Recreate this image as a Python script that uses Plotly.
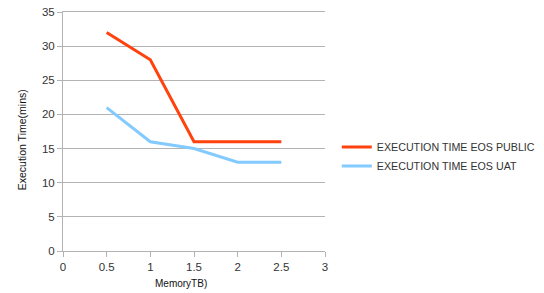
import plotly.graph_objects as go

memory_tb = [0.5, 1, 1.5, 2, 2.5]
eos_public = [32, 28, 16, 16, 16]
eos_uat = [21, 16, 15, 13, 13]

fig = go.Figure()
fig.add_trace(go.Scatter(x=memory_tb, y=eos_public, mode="lines", name="EXECUTION TIME EOS PUBLIC",
                         line=dict(color="#ff420e", width=3)))
fig.add_trace(go.Scatter(x=memory_tb, y=eos_uat, mode="lines", name="EXECUTION TIME EOS UAT",
                         line=dict(color="#83caff", width=3)))

grid = "#b3b3b3"
fig.update_layout(
    width=544, height=293,
    margin=dict(l=63, r=219, t=12, b=42, autoexpand=False),
    paper_bgcolor="white", plot_bgcolor="white",
    font=dict(family="Liberation Sans, Arial, sans-serif", size=11.5, color="#333333"),
    legend=dict(x=1.045, y=0.395, xanchor="left", yanchor="middle", itemwidth=30,
                font=dict(size=10.7, color="#333333"), tracegroupgap=0,
                bgcolor="rgba(0,0,0,0)"),
    showlegend=True,
    annotations=[
        dict(text="MemoryTB)", xref="paper", yref="paper", x=0.45, y=-0.138,
             xanchor="center", yanchor="middle", showarrow=False,
             font=dict(size=10, color="#111111")),
        dict(text="Execution Time(mins)", xref="paper", yref="paper", x=-0.156, y=0.464,
             xanchor="center", yanchor="middle", showarrow=False, textangle=-90,
             font=dict(size=10.5, color="#111111")),
    ],
)
fig.update_xaxes(range=[0, 3], tickvals=[0, 0.5, 1, 1.5, 2, 2.5, 3],
                 ticktext=["0", "0.5", "1", "1.5", "2", "2.5", "3"],
                 showgrid=False, zeroline=False, showline=True, linecolor=grid, linewidth=1,
                 mirror=True, ticks="outside", ticklen=5, tickcolor=grid, automargin=False)
fig.update_yaxes(range=[0, 35], tickvals=[0, 5, 10, 15, 20, 25, 30, 35],
                 showgrid=True, gridcolor=grid, gridwidth=1, zeroline=False,
                 showline=True, linecolor=grid, linewidth=1,
                 ticks="outside", ticklen=5, tickcolor=grid, automargin=False)

fig.write_html("out.html", config={"displayModeBar": False},
               post_script="document.body.style.margin='0';")
